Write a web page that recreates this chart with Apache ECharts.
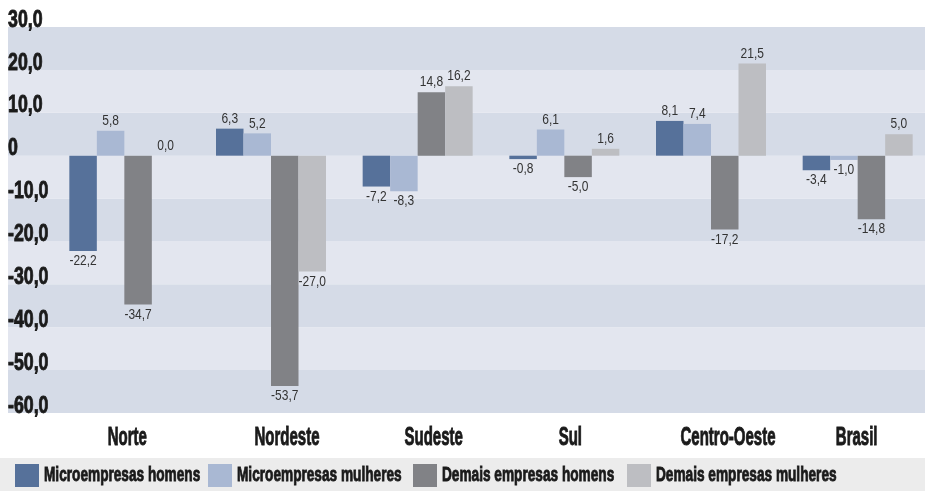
<!DOCTYPE html>
<html>
<head>
    <meta charset="UTF-8">
    <title>ECharts</title>
    <script src="https://cdn.jsdelivr.net/npm/echarts@6/dist/echarts.min.js"></script>
    <style>
        html, body { margin: 0; padding: 0; background: #fff; }
    </style>
</head>
<body>
    <div id="main" style="width:925px;height:491px;"></div>
    <script type="text/javascript">
        // regioes
        var regioes = ['Norte', 'Nordeste', 'Sudeste', 'Sul', 'Centro-Oeste', 'Brasil'];
        // series
        var microHomens = [-22.2, 6.3, -7.2, -0.8, 8.1, -3.4];
        var microMulheres = [5.8, 5.2, -8.3, 6.1, 7.4, -1.0];
        var demaisHomens = [-34.7, -53.7, 14.8, -5.0, -17.2, -14.8];
        var demaisMulheres = [0.0, -27.0, 16.2, 1.6, 21.5, 5.0];
        var nomes = ['Microempresas homens', 'Microempresas mulheres', 'Demais empresas homens', 'Demais empresas mulheres'];
        var cores = ['#56719a', '#a9b8d3', '#818286', '#bdbec2'];

        var fonte = "'Liberation Sans', Arial, sans-serif";

        // fonte condensada: nao ha fonte estreita instalada, entao o texto
        // do canvas e comprimido na horizontal (fator por tamanho de fonte)
        var condensa = { '24': 0.74, '25': 0.6, '21': 0.65, '15': 0.8 };
        (function () {
            var proto = CanvasRenderingContext2D.prototype;
            var fill = proto.fillText, stroke = proto.strokeText, medir = proto.measureText;
            function fator(ctx) {
                var m = /(\d+(?:\.\d+)?)px/.exec(ctx.font);
                return (m && condensa[m[1]]) || 1;
            }
            function comprime(orig) {
                return function (t, x, y) {
                    var s = fator(this);
                    if (s === 1) return orig.apply(this, arguments);
                    this.save();
                    this.translate(x, y);
                    this.scale(s, 1);
                    orig.call(this, t, 0, 0);
                    this.restore();
                };
            }
            proto.fillText = comprime(fill);
            proto.strokeText = comprime(stroke);
            proto.measureText = function (t) {
                var m = medir.call(this, t);
                var s = fator(this);
                if (s === 1) return m;
                return {
                    width: m.width * s,
                    actualBoundingBoxLeft: m.actualBoundingBoxLeft * s,
                    actualBoundingBoxRight: m.actualBoundingBoxRight * s,
                    actualBoundingBoxAscent: m.actualBoundingBoxAscent,
                    actualBoundingBoxDescent: m.actualBoundingBoxDescent,
                    fontBoundingBoxAscent: m.fontBoundingBoxAscent,
                    fontBoundingBoxDescent: m.fontBoundingBoxDescent
                };
            };
        })();

        function virgula(v) {
            return v.toFixed(1).replace('.', ',');
        }

        function serie(i, dados) {
            return {
                name: nomes[i],
                type: 'bar',
                xAxisIndex: 1,
                yAxisIndex: 1,
                barWidth: 27.5,
                barGap: '0%',
                itemStyle: { color: cores[i] },
                data: dados.map(function (v) {
                    return {
                        value: v,
                        label: { position: v < 0 ? 'bottom' : 'top' }
                    };
                }),
                label: {
                    show: true,
                    distance: 4,
                    fontFamily: fonte,
                    fontSize: 15,
                    color: '#333',
                    formatter: function (p) { return virgula(p.value); }
                }
            };
        }

        // deslocamento horizontal dos nomes das regioes (px)
        var desloc = [3, 16, 16, 6, 17, -1];
        var categorias = regioes.map(function (r, i) {
            var d = desloc[i];
            return {
                value: r,
                textStyle: { padding: d >= 0 ? [0, 0, 0, 2 * d] : [0, -2 * d, 0, 0] }
            };
        });

        var negrito = {
            fontFamily: fonte,
            fontWeight: 'bold',
            color: '#1a1a1a',
            textBorderColor: '#1a1a1a',
            textBorderWidth: 0.9
        };

        var legendaX = [15, 208, 413, 627];
        var legendas = nomes.map(function (n, i) {
            return {
                left: legendaX[i],
                top: 464,
                padding: 0,
                itemWidth: 24,
                itemHeight: 23,
                icon: 'rect',
                data: [n],
                textStyle: Object.assign({ fontSize: 21 }, negrito)
            };
        });

        var myChart = echarts.init(document.getElementById('main'));
        myChart.setOption({
            animation: false,
            graphic: [{
                type: 'rect',
                shape: { x: 0, y: 458, width: 925, height: 33 },
                style: { fill: '#ececec' },
                z: -1
            }],
            legend: legendas,
            grid: [
                { left: 8, right: 0, top: 27, bottom: 78, outerBoundsMode: 'none' },
                { left: 51, width: 880, top: 27, bottom: 78, outerBoundsMode: 'none' }
            ],
            xAxis: [
                { gridIndex: 0, type: 'value', show: false },
                {
                    gridIndex: 1,
                    type: 'category',
                    data: categorias,
                    axisLine: { show: false },
                    axisTick: { show: false },
                    axisLabel: Object.assign({
                        interval: 0,
                        margin: 18,
                        fontSize: 25
                    }, negrito)
                }
            ],
            yAxis: [
                {
                    gridIndex: 0,
                    type: 'value',
                    min: -60,
                    max: 30,
                    interval: 10,
                    axisLine: { show: false },
                    axisTick: { show: false },
                    splitLine: { show: false },
                    splitArea: {
                        show: true,
                        areaStyle: { color: ['#d5dbe7', '#e3e6ef'] }
                    },
                    axisLabel: Object.assign({
                        inside: true,
                        margin: 0,
                        align: 'left',
                        verticalAlign: 'bottom',
                        lineHeight: 14,
                        fontSize: 24,
                        formatter: function (v) { return v === 0 ? '0' : virgula(v); }
                    }, negrito)
                },
                { gridIndex: 1, type: 'value', min: -60, max: 30, show: false }
            ],
            series: [
                serie(0, microHomens),
                serie(1, microMulheres),
                serie(2, demaisHomens),
                serie(3, demaisMulheres)
            ]
        });
    </script>
</body>
</html>
